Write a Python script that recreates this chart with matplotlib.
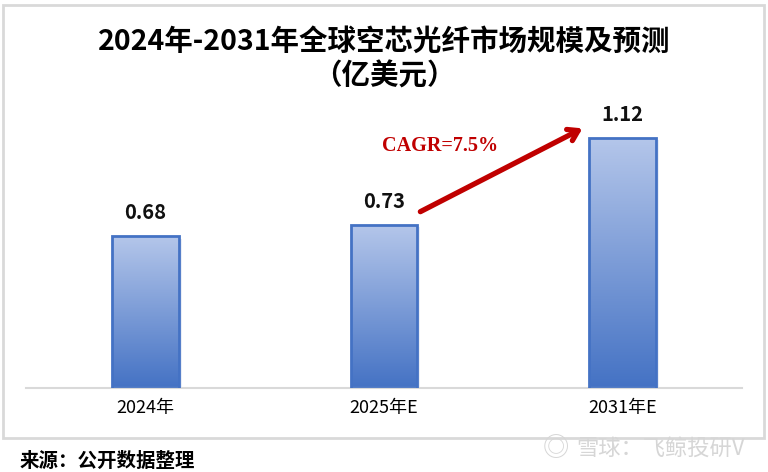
import numpy as np
import matplotlib.pyplot as plt
from matplotlib.colors import LinearSegmentedColormap
from matplotlib.patches import Rectangle

plt.rcParams['font.family'] = ['Noto Sans CJK SC', 'DejaVu Sans']

years = ['2024年', '2025年E', '2031年E']
values = [0.68, 0.73, 1.12]
value_labels = ['0.68', '0.73', '1.12']

W, H = 768, 472
fig = plt.figure(figsize=(W / 100, H / 100), dpi=100)

# outer gray frame
fig.patches.append(Rectangle((3 / W, 1 - 438 / H), 761 / W, 433 / H,
                             transform=fig.transFigure, fill=False,
                             edgecolor='#d9d9d9', linewidth=2))

# axes placed in pixels: baseline at y=388, 223 px per unit
px_unit = 223
ax_top = 100
ax = fig.add_axes([26 / W, 1 - 388 / H, (742 - 26) / W, (388 - ax_top) / H])
ax.set_xlim(-0.5, 2.5)
ax.set_ylim(0, (388 - ax_top) / px_unit)

cmap = LinearSegmentedColormap.from_list('bl', ['#4472c4', '#b4c6ea'])
grad = np.linspace(0, 1, 256).reshape(-1, 1)
bw = 0.28
x = np.arange(len(years))
bars = ax.bar(x, values, width=bw, facecolor='none', edgecolor='#4472c4',
              linewidth=2, zorder=3)
for b, v in zip(bars, values):
    x0 = b.get_x()
    # soft shadow
    ax.add_patch(Rectangle((x0 + 0.012, 0), bw, v - 0.01, facecolor='#dde3f0',
                           edgecolor='none', alpha=0.6, zorder=1))
    im = ax.imshow(grad, cmap=cmap, origin='lower', aspect='auto',
                   extent=[x0, x0 + bw, 0, v], zorder=2)
    im.set_clip_path(b)

for xi, v, lab in zip(x, values, value_labels):
    ax.text(xi, v + 0.105, lab, ha='center', va='center', fontsize=14.5,
            fontweight='bold', color='#111111')

ax.set_xlim(-0.5, 2.5)
ax.set_ylim(0, (388 - ax_top) / px_unit)
ax.set_xticks(x)
ax.set_xticklabels(years, fontsize=13)
ax.tick_params(axis='x', length=0, pad=8)
ax.set_yticks([])
for s in ['top', 'right', 'left']:
    ax.spines[s].set_visible(False)
ax.spines['bottom'].set_color('#d9d9d9')
ax.spines['bottom'].set_linewidth(1.5)
ax.patch.set_alpha(0)

# CAGR arrow
ax.annotate('', xy=(1.842, 1.17), xytext=(1.142, 0.785),
            arrowprops=dict(arrowstyle='->, head_length=0.7, head_width=0.45',
                            color='#c00000', lw=3.8), zorder=4)
ax.text(0.99, 1.085, 'CAGR=7.5%', color='#c00000', fontsize=14.5,
        fontweight='bold', family=['Liberation Serif'], ha='left', va='center')

fig.text(0.5, 1 - 42 / H, '2024年-2031年全球空芯光纤市场规模及预测',
         ha='center', va='center', fontsize=20.5, fontweight='bold')
fig.text(0.5, 1 - 76 / H, '（亿美元）', ha='center', va='center',
         fontsize=20.5, fontweight='bold')

fig.text(20 / W, 1 - 461 / H, '来源：公开数据整理', ha='left', va='center',
         fontsize=14, fontweight='bold')
fig.text(745 / W, 1 - 448 / H, '雪球：飞鲸投研V', ha='right', va='center',
         fontsize=16, color='#d6d6d6')
fig.text(556 / W, 1 - 448 / H, '◎', ha='center', va='center',
         fontsize=19, color='#d6d6d6')

fig.savefig('out.png', dpi=100)
